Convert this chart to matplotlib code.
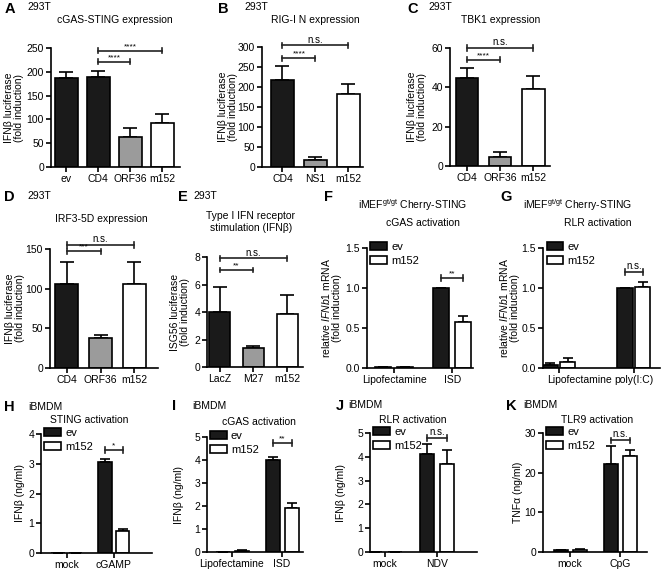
import numpy as np
import matplotlib
matplotlib.use("Agg")
import matplotlib.pyplot as plt
import matplotlib.transforms as mtransforms
from matplotlib.patches import Patch

plt.rcParams['font.family'] = ['Liberation Sans', 'DejaVu Sans']
plt.rcParams['mathtext.fontset'] = 'custom'
plt.rcParams['mathtext.rm'] = 'Liberation Sans'
plt.rcParams['mathtext.it'] = 'Liberation Sans:italic'
plt.rcParams['font.size'] = 7.5

W, H = 661, 570

# ---- data: single-series panels A-E ----
a_labels = ['ev', 'CD4', 'ORF36', 'm152']
a_vals = [188, 190, 62, 92]
a_err = [12, 12, 19, 19]

b_labels = ['CD4', 'NS1', 'm152']
b_vals = [217, 17, 183]
b_err = [36, 7, 24]

c_labels = ['CD4', 'ORF36', 'm152']
c_vals = [45, 4.7, 38.9]
c_err = [5, 2.2, 6.7]

d_labels = ['CD4', 'ORF36', 'm152']
d_vals = [106, 38, 106]
d_err = [28, 4, 28]

e_labels = ['LacZ', 'M27', 'm152']
e_vals = [4.0, 1.35, 3.85]
e_err = [1.8, 0.2, 1.4]

# ---- data: grouped panels F-K (ev, m152) ----
f_groups = ['Lipofectamine', 'ISD']
f_ev = [0.01, 1.0]
f_ev_err = [0, 0]
f_m152 = [0.01, 0.57]
f_m152_err = [0, 0.08]

g_groups = ['Lipofectamine', 'poly(I:C)']
g_ev = [0.04, 1.0]
g_ev_err = [0.025, 0]
g_m152 = [0.07, 1.01]
g_m152_err = [0.05, 0.07]

h_groups = ['mock', 'cGAMP']
h_ev = [0, 3.07]
h_ev_err = [0, 0.1]
h_m152 = [0, 0.75]
h_m152_err = [0, 0.04]

i_groups = ['Lipofectamine', 'ISD']
i_ev = [0.0, 4.0]
i_ev_err = [0, 0.15]
i_m152 = [0.04, 1.92]
i_m152_err = [0.04, 0.22]

j_groups = ['mock', 'NDV']
j_ev = [0, 4.1]
j_ev_err = [0, 0.45]
j_m152 = [0, 3.7]
j_m152_err = [0, 0.6]

k_groups = ['mock', 'CpG']
k_ev = [0.5, 22.3]
k_ev_err = [0.1, 4.5]
k_m152 = [0.6, 24.2]
k_m152_err = [0.1, 1.6]

fig = plt.figure(figsize=(W / 100, H / 100), dpi=100)


def axes_px(l, r, t, b):
    return fig.add_axes([l / W, 1 - b / H, (r - l) / W, (b - t) / H])


def ftext(x, y, s, **kw):
    fig.text(x / W, 1 - y / H, s, va='center', **kw)


def style(ax, box, ylim, yticks, ylabel, lab_x, fmt=None):
    for s in ['top', 'right']:
        ax.spines[s].set_visible(False)
    for s in ['left', 'bottom']:
        ax.spines[s].set_linewidth(1.2)
    ax.set_ylim(*ylim)
    ax.set_yticks(yticks)
    if fmt:
        ax.set_yticklabels([fmt.format(t) for t in yticks])
    ax.tick_params(axis='both', length=3.5, width=1.2, labelsize=7.5, pad=1.5)
    ax.set_ylabel(ylabel, fontsize=7.5, linespacing=1.05, va='center')
    ax.yaxis.set_label_coords((lab_x - box[0]) / (box[1] - box[0]), 0.5)


def bracket(ax, x1, x2, y, txt):
    d = (ax.get_ylim()[1]) * 0.022
    kw = dict(color='#222222', lw=1.2, clip_on=False)
    ax.plot([x1, x2], [y, y], **kw)
    ax.plot([x1, x1], [y - d, y + d], **kw)
    ax.plot([x2, x2], [y - d, y + d], **kw)
    ax.text((x1 + x2) / 2, y + d * 0.3, txt, ha='center', va='bottom',
            fontsize=7 if txt == 'n.s.' else 6, clip_on=False)


def simple_panel(box, labels, vals, err, colors, width, xlim, ylim, yticks, ylabel, lab_x):
    ax = axes_px(*box)
    x = np.arange(len(labels))
    ax.bar(x, vals, width=width, color=colors, edgecolor='black', linewidth=1.2, zorder=2)
    ax.errorbar(x, vals, yerr=[np.zeros(len(err)), err], fmt='none', ecolor='black',
                elinewidth=1.2, capsize=5, capthick=1.2, zorder=1)
    ax.set_xticks(x)
    ax.set_xticklabels(labels)
    ax.set_xlim(*xlim)
    style(ax, box, ylim, yticks, ylabel, lab_x)
    return ax


def group_panel(box, groups, ev, ev_err, m, m_err, xlim, ylim, yticks, ylabel, lab_x,
                fmt=None, off=0.19, w=0.28):
    ax = axes_px(*box)
    x = np.arange(len(groups))
    ax.bar(x - off, ev, width=w, color='#1a1a1a', edgecolor='black', linewidth=1.2, zorder=2)
    ax.bar(x + off, m, width=w, color='white', edgecolor='black', linewidth=1.2, zorder=2)
    for xx, v, e in [(x - off, ev, ev_err), (x + off, m, m_err)]:
        ax.errorbar(xx, v, yerr=[np.zeros(len(e)), e], fmt='none', ecolor='black',
                    elinewidth=1.2, capsize=3.5, capthick=1.2, zorder=1)
    ax.set_xticks(x)
    ax.set_xticklabels(groups)
    ax.set_xlim(*xlim)
    style(ax, box, ylim, yticks, ylabel, lab_x, fmt)
    handles = [Patch(facecolor='#1a1a1a', edgecolor='black', linewidth=1.2),
               Patch(facecolor='white', edgecolor='black', linewidth=1.2)]
    ax.legend(handles, ['ev', 'm152'], loc='upper left', bbox_to_anchor=(0.03, 1.05),
              frameon=False, fontsize=8, handlelength=1.5, handleheight=0.75,
              labelspacing=0.35, handletextpad=0.4, borderaxespad=0, borderpad=0)
    return ax, off


DARK, GREY, WHITE = '#1a1a1a', '#9b9b9b', 'white'
luc = 'IFN\u03b2 luciferase\n(fold induction)'

# A
ax = simple_panel((51, 180, 48, 167), a_labels, a_vals, a_err, [DARK, DARK, GREY, WHITE],
                  0.72, (-0.48, 3.55), (0, 250), [0, 50, 100, 150, 200, 250], luc, 14)
bracket(ax, 1, 3, 244, '****')
bracket(ax, 1, 2, 221, '****')

# B
ax = simple_panel((262, 363, 47, 167), b_labels, b_vals, b_err, [DARK, GREY, WHITE],
                  0.67, (-0.62, 2.44), (0, 300), [0, 50, 100, 150, 200, 250, 300], luc, 228)
bracket(ax, 0, 2, 304, 'n.s.')
bracket(ax, 0, 1, 272, '****')

# C
ax = simple_panel((450, 550, 48, 166), c_labels, c_vals, c_err, [DARK, GREY, WHITE],
                  0.67, (-0.52, 2.5), (0, 60), [0, 20, 40, 60], luc, 417)
bracket(ax, 0, 2, 60, 'n.s.')
bracket(ax, 0, 1, 54, '****')

# D
ax = simple_panel((50, 158, 249, 368), d_labels, d_vals, d_err, [DARK, GREY, WHITE],
                  0.68, (-0.5, 2.7), (0, 150), [0, 50, 100, 150], luc, 15)
bracket(ax, 0, 2, 155, 'n.s.')
bracket(ax, 0, 1, 147, '***')

# E
ax = simple_panel((207, 303, 257, 367), e_labels, e_vals, e_err, [DARK, GREY, WHITE],
                  0.62, (-0.37, 2.47), (0, 8), [0, 2, 4, 6, 8],
                  'ISG56 luciferase\n(fold induction)', 180)
bracket(ax, 0, 2, 7.9, 'n.s.')
bracket(ax, 0, 1, 7.05, '**')

rel = 'relative $\\it{IFNb1}$ mRNA\n(fold induction)'
# F
ax, off = group_panel((367, 473, 248, 368), f_groups, f_ev, f_ev_err, f_m152, f_m152_err,
                      (-0.47, 1.36), (0, 1.5), [0, 0.5, 1.0, 1.5], rel, 331, '{:.1f}')
bracket(ax, 1 - off, 1 + off, 1.125, '**')

# G
ax, off = group_panel((543, 660, 248, 368), g_groups, g_ev, g_ev_err, g_m152, g_m152_err,
                      (-0.21, 1.35), (0, 1.5), [0, 0.5, 1.0, 1.5], rel, 509, '{:.1f}',
                      off=0.117, w=0.21)
bracket(ax, 1 - off, 1 + off, 1.2, 'n.s.')
# the Lipofectamine label sits to the right of its bars in the original
lab = ax.get_xticklabels()[0]
lab.set_transform(lab.get_transform() +
                  mtransforms.ScaledTranslation(21 / 100, 0, fig.dpi_scale_trans))

ng = 'IFN\u03b2 (ng/ml)'
# H
ax, off = group_panel((41, 152, 434, 553), h_groups, h_ev, h_ev_err, h_m152, h_m152_err,
                      (-0.55, 1.81), (0, 4), [0, 1, 2, 3, 4], ng, 20)
bracket(ax, 1 - off, 1 + off, 3.46, '*')

# I
ax, off = group_panel((207, 303, 437, 552), i_groups, i_ev, i_ev_err, i_m152, i_m152_err,
                      (-0.5, 1.42), (0, 5), [0, 1, 2, 3, 4, 5], ng, 179)
bracket(ax, 1 - off, 1 + off, 4.74, '**')

# J
ax, off = group_panel((370, 477, 433, 552), j_groups, j_ev, j_ev_err, j_m152, j_m152_err,
                      (-0.29, 1.77), (0, 5), [0, 1, 2, 3, 4, 5], ng, 341)
bracket(ax, 1 - off, 1 + off, 4.79, 'n.s.')

# K
ax, off = group_panel((543, 647, 433, 552), k_groups, k_ev, k_ev_err, k_m152, k_m152_err,
                      (-0.54, 1.54), (0, 30), [0, 10, 20, 30], 'TNF\u03b1 (ng/ml)', 518)
bracket(ax, 1 - off, 1 + off, 28.2, 'n.s.')

# panel letters
letters = [('A', 5, 9), ('B', 218, 9), ('C', 407, 9), ('D', 4, 197), ('E', 178, 197),
           ('F', 324, 197), ('G', 500, 197), ('H', 4, 407), ('I', 172, 406),
           ('J', 336, 406), ('K', 506, 406)]
for s, x, y in letters:
    ftext(x, y, s, fontsize=10.5, fontweight='bold', ha='left')

# cell line labels
cells = [('293T', 27, 7), ('293T', 244, 7), ('293T', 428, 7), ('293T', 27, 196),
         ('293T', 193, 196), ('iMEF$^{\\mathrm{gt/gt}}$ Cherry-STING', 358, 205),
         ('iMEF$^{\\mathrm{gt/gt}}$ Cherry-STING', 523, 205), ('iBMDM', 28, 407),
         ('iBMDM', 192, 406), ('iBMDM', 348, 405), ('iBMDM', 523, 405)]
for s, x, y in cells:
    ftext(x, y, s, fontsize=7.5, ha='left')

# titles
titles = [('cGAS-STING expression', 115, 20), ('RIG-I N expression', 315, 20),
          ('TBK1 expression', 501, 20), ('IRF3-5D expression', 101, 219),
          ('Type I IFN receptor\nstimulation (IFN\u03b2)', 251, 222),
          ('cGAS activation', 423, 223), ('RLR activation', 598, 223),
          ('STING activation', 89, 420), ('cGAS activation', 259, 422),
          ('RLR activation', 413, 420), ('TLR9 activation', 597, 420)]
for s, x, y in titles:
    ftext(x, y, s, fontsize=7.5, ha='center', linespacing=1.15)

fig.savefig('out.png', dpi=100)
